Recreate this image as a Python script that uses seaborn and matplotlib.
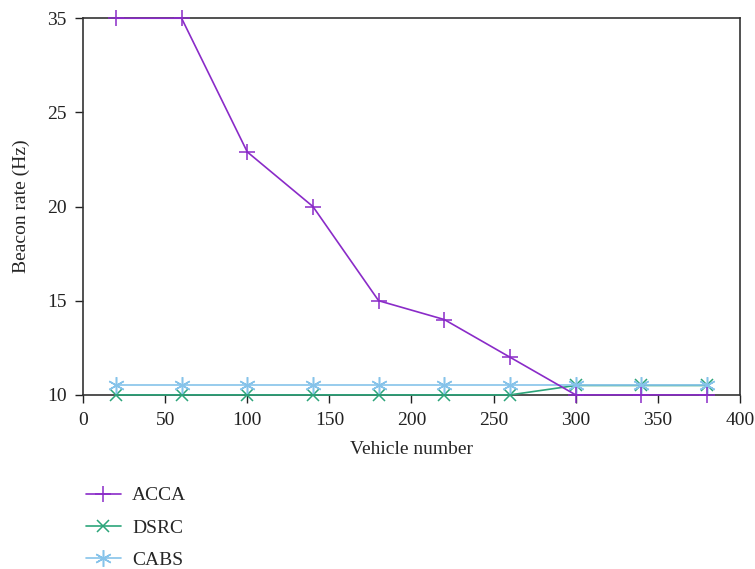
import numpy as np
import pandas as pd
import matplotlib
matplotlib.use("Agg")
import matplotlib.pyplot as plt
import seaborn as sns

vehicles = [20, 60, 100, 140, 180, 220, 260, 300, 340, 380]
acca = [35, 35, 22.9, 20, 15, 14, 12, 10, 10, 10]
dsrc = [10, 10, 10, 10, 10, 10, 10, 10.5, 10.5, 10.5]
cabs = [10.5, 10.5, 10.5, 10.5, 10.5, 10.5, 10.5, 10.5, 10.5, 10.5]
series_names = ["ACCA", "DSRC", "CABS"]
y_ticks = [10, 15, 20, 25, 35]
x_ticks = [0, 50, 100, 150, 200, 250, 300, 350, 400]

sns.set_theme(style="ticks")
plt.rcParams['font.family'] = ['Liberation Serif', 'DejaVu Serif']
plt.rcParams['font.size'] = 14

df = pd.DataFrame({
    "Vehicle number": vehicles * 3,
    "rate": acca + dsrc + cabs,
    "series": sum([[n] * len(vehicles) for n in series_names], []),
})

colors = {"ACCA": "#8a2bc8", "DSRC": "#2ca57a", "CABS": "#86c3ea"}
markers = {"ACCA": "+", "DSRC": "x", "CABS": (6, 2, 0)}
msizes = {"ACCA": 11, "DSRC": 9, "CABS": 12}

fig = plt.figure(figsize=(7.55, 5.69), dpi=100)
ax = fig.add_axes([0.110, 0.306, 0.870, 0.662])

def fwd(y):
    y = np.asarray(y, dtype=float)
    return np.where(y <= 25, y, 25 + (y - 25) / 2)

def inv(y):
    y = np.asarray(y, dtype=float)
    return np.where(y <= 25, y, 25 + (y - 25) * 2)

ax.set_yscale('function', functions=(fwd, inv))

order = ["DSRC", "CABS", "ACCA"]
for i, name in enumerate(order):
    sub = df[df.series == name]
    sns.lineplot(data=sub, x="Vehicle number", y="rate", ax=ax,
                 color=colors[name], marker=markers[name],
                 markersize=msizes[name], markeredgewidth=1.1,
                 markeredgecolor=colors[name], markerfacecolor=colors[name],
                 linewidth=1.2, label=name, legend=False, clip_on=False,
                 zorder=3 + i)

ax.set_xlim(0, 400)
ax.set_ylim(10, 35)
ax.set_xticks(x_ticks)
ax.set_yticks(y_ticks)
ax.set_yticklabels([str(t) for t in y_ticks])
ax.yaxis.set_minor_locator(matplotlib.ticker.NullLocator())
ax.set_xlabel("Vehicle number", fontsize=14, labelpad=9)
ax.set_ylabel("Beacon rate (Hz)", fontsize=14, labelpad=12)
ax.tick_params(axis='both', labelsize=14, direction='out', length=6, width=1,
               colors='#222222', pad=6)
for s in ax.spines.values():
    s.set_linewidth(1.2)
    s.set_color('#333333')
    s.set_zorder(2)

handles, labels = ax.get_legend_handles_labels()
hmap = dict(zip(labels, handles))
fig.legend([hmap[n] for n in series_names], series_names,
           loc='upper left', bbox_to_anchor=(0.103, 0.158), frameon=False,
           fontsize=14, labelspacing=0.75, handlelength=1.8, handletextpad=0.6,
           borderaxespad=0)

fig.savefig("out.png", dpi=100)
